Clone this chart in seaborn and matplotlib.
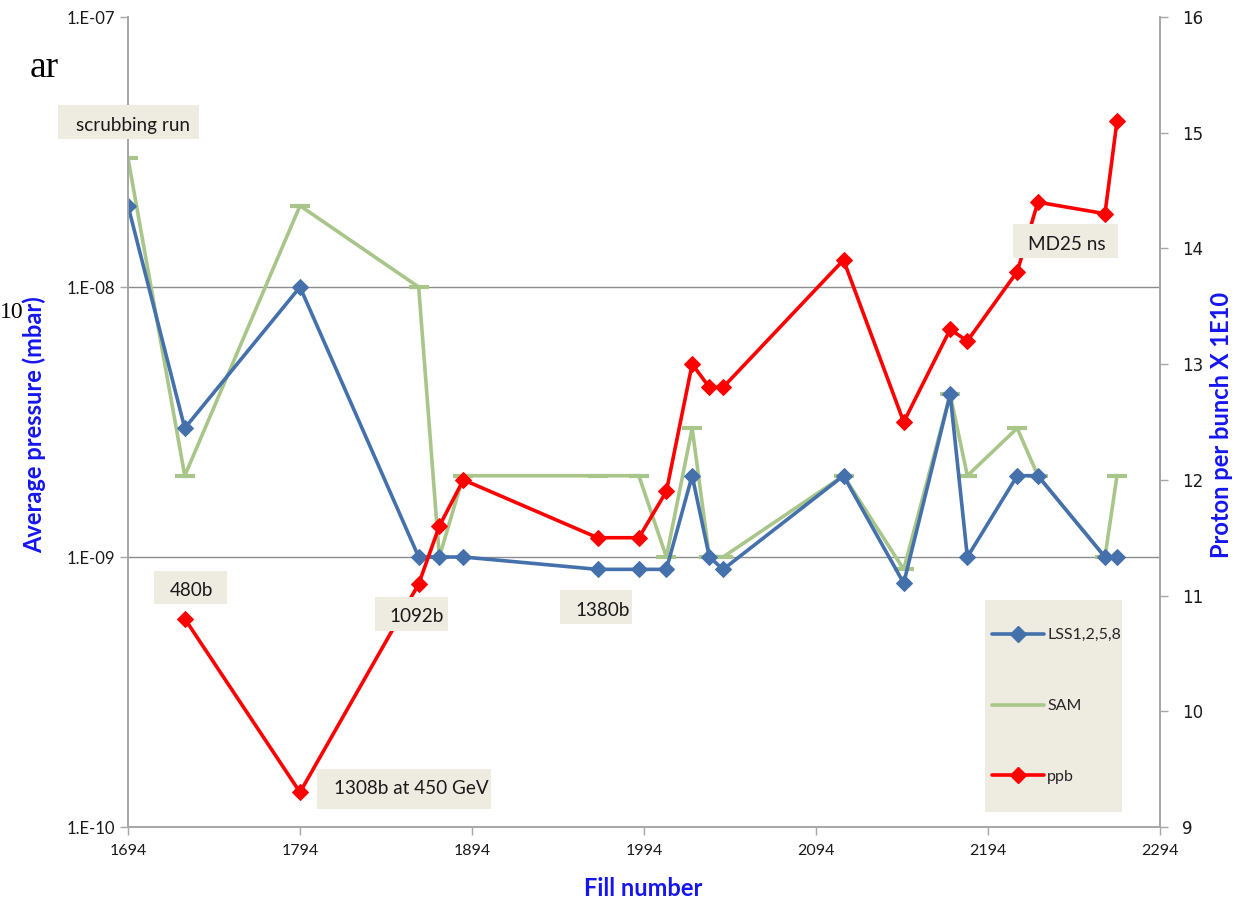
import numpy as np
import pandas as pd
import matplotlib
matplotlib.use("Agg")
import matplotlib.pyplot as plt
import seaborn as sns
from matplotlib.lines import Line2D
from matplotlib.patches import Rectangle
from matplotlib.ticker import FixedLocator, FuncFormatter, NullLocator

sns.set_theme(style="white")
plt.rcParams['font.family'] = ['Lato', 'DejaVu Sans']

# ---------------- data ----------------
fills_lss = [1694, 1727, 1794, 1863, 1875, 1889, 1967, 1991, 2007, 2022, 2032, 2040,
             2110, 2145, 2172, 2182, 2211, 2223, 2262, 2269]
lss = [2e-8, 3e-9, 1e-8, 1e-9, 1e-9, 1e-9, 9e-10, 9e-10, 9e-10, 2e-9, 1e-9, 9e-10,
       2e-9, 8e-10, 4e-9, 1e-9, 2e-9, 2e-9, 1e-9, 1e-9]

fills_sam = [1694, 1727, 1794, 1863, 1875, 1889, 1967, 1991, 2007, 2022, 2032, 2040,
             2110, 2145, 2172, 2182, 2211, 2223, 2262, 2269]
sam = [3e-8, 2e-9, 2e-8, 1e-8, 1e-9, 2e-9, 2e-9, 2e-9, 1e-9, 3e-9, 1e-9, 1e-9,
       2e-9, 9e-10, 4e-9, 2e-9, 3e-9, 2e-9, 1e-9, 2e-9]

fills_ppb = [1727, 1794, 1863, 1875, 1889, 1967, 1991, 2007, 2022, 2032, 2040,
             2110, 2145, 2172, 2182, 2211, 2223, 2262, 2269]
ppb = [10.8, 9.3, 11.1, 11.6, 12.0, 11.5, 11.5, 11.9, 13.0, 12.8, 12.8,
       13.9, 12.5, 13.3, 13.2, 13.8, 14.4, 14.3, 15.1]

x_ticks = [1694, 1794, 1894, 1994, 2094, 2194, 2294]
y_ticks = [1e-10, 1e-9, 1e-8, 1e-7]
y2_ticks = [9, 10, 11, 12, 13, 14, 15, 16]

annotations = ["scrubbing run", "480b", "1092b", "1380b", "1308b at 450 GeV", "MD25 ns"]
series_names = ["LSS1,2,5,8", "SAM", "ppb"]

# ---------------- style ----------------
BLUE = "#4471AB"
GREEN = "#A9C68A"
RED = "#FF0000"
BEIGE = "#EEEBE1"
LABEL_BLUE = "#1515F0"
GRID = "#8C8C8C"

W, H = 1239, 901
fig = plt.figure(figsize=(W / 100, H / 100), dpi=100)
ax = fig.add_axes([128 / W, 1 - 827 / H, (1160 - 128) / W, (827 - 17) / H])
ax2 = ax.twinx()

df_lss = pd.DataFrame({"fill": fills_lss, "p": lss})
df_sam = pd.DataFrame({"fill": fills_sam, "p": sam})
df_ppb = pd.DataFrame({"fill": fills_ppb, "v": ppb})

sns.lineplot(data=df_lss, x="fill", y="p", ax=ax, color=BLUE, lw=2.6,
             marker="D", markersize=8, markeredgecolor=BLUE, estimator=None, sort=False,
             zorder=3)
sns.lineplot(data=df_sam, x="fill", y="p", ax=ax, color=GREEN, lw=2.6,
             marker="_", markersize=14, markeredgewidth=3, markeredgecolor=GREEN,
             estimator=None, sort=False, zorder=2)
sns.lineplot(data=df_ppb, x="fill", y="v", ax=ax2, color=RED, lw=2.6,
             marker="D", markersize=8, markeredgecolor=RED, estimator=None, sort=False,
             zorder=3)

ax.set_yscale("log")
ax.set_xlim(1694, 2294)
ax.set_ylim(1e-10, 1e-7)
ax2.set_ylim(9, 16)

ax.xaxis.set_major_locator(FixedLocator(x_ticks))
ax.yaxis.set_major_locator(FixedLocator(y_ticks))
ax.yaxis.set_minor_locator(NullLocator())
ax.yaxis.set_major_formatter(FuncFormatter(lambda v, p: "1.E-%02d" % int(round(-np.log10(v)))))
ax2.yaxis.set_major_locator(FixedLocator(y2_ticks))

ax.grid(False)
ax2.grid(False)
for yt in y_ticks[1:3]:
    ax.axhline(yt, color=GRID, lw=1.0, zorder=1)

for a in (ax, ax2):
    a.spines["top"].set_visible(False)
    for s in ("left", "right", "bottom"):
        a.spines[s].set_color("#A6A6A6")
        a.spines[s].set_linewidth(1.2)

ax.tick_params(axis="x", direction="out", length=6, width=1, color="#A6A6A6",
               labelsize=11.5, pad=6, labelcolor="#1a1a1a", bottom=True)
ax.tick_params(axis="y", direction="out", length=6, width=1, color="#A6A6A6",
               labelsize=12, labelcolor="#1a1a1a", left=True)
ax2.tick_params(axis="y", direction="out", length=6, width=1, color="#A6A6A6",
                labelsize=12, pad=10, labelcolor="#1a1a1a", right=True)
for t in ax2.get_yticklabels():
    t.set_fontfamily("DejaVu Sans")

ax.set_xlabel("Fill number", fontsize=17, fontweight="bold", color=LABEL_BLUE)
ax.set_ylabel("Average pressure (mbar)", fontsize=17, fontweight="bold", color=LABEL_BLUE)
ax2.set_ylabel("Proton per bunch X 1E10", fontsize=17, fontweight="bold", color=LABEL_BLUE)
ax.xaxis.set_label_coords((643 - 128) / 1032, (827 - 888) / 810)
ax.yaxis.set_label_coords((34 - 128) / 1032, (827 - 425) / 810)
ax2.yaxis.set_label_coords((1222 - 128) / 1032, (827 - 425) / 810)
ax.xaxis.label.set_va("center")
ax.yaxis.label.set_va("center")
ax2.yaxis.label.set_va("center")

# annotation boxes: (box x0, x1, y0, y1, text center x, text center y) in figure pixels
ann_layout = [
    (58, 199, 105, 139, 133, 126),
    (154, 227, 571, 604, 191, 590),
    (375, 448, 597, 631, 417, 616),
    (560, 632, 590, 624, 603, 610),
    (317, 491, 769, 809, 411, 789),
    (1013, 1118, 224, 258, 1067, 244),
]
for txt, (x0, x1, y0, y1, tx, ty) in zip(annotations, ann_layout):
    ax2.add_patch(Rectangle((x0 / W, 1 - y1 / H), (x1 - x0) / W, (y1 - y0) / H,
                            transform=fig.transFigure, facecolor=BEIGE, edgecolor="none",
                            zorder=8, clip_on=False))
    ax2.text(tx / W, 1 - ty / H, txt, transform=fig.transFigure, ha="center", va="center",
             fontsize=13.6, color="#1a1a1a", zorder=9, clip_on=False)

# legend box + legend
ax2.add_patch(Rectangle((985 / W, 1 - 812 / H), (1122 - 985) / W, (812 - 600) / H,
                        transform=fig.transFigure, facecolor=BEIGE, edgecolor="none",
                        zorder=4, clip_on=False))
handles = [
    Line2D([], [], color=BLUE, lw=2.6, marker="D", markersize=8),
    Line2D([], [], color=GREEN, lw=2.6),
    Line2D([], [], color=RED, lw=2.6, marker="D", markersize=8),
]
if ax.get_legend():
    ax.get_legend().remove()
leg = ax2.legend(handles, series_names, loc="center left",
                 bbox_to_anchor=(992 / W, 1 - 706 / H), bbox_transform=fig.transFigure,
                 frameon=False, fontsize=11.5, labelspacing=3.55, handlelength=3.25,
                 handletextpad=0.2, borderpad=0, borderaxespad=0)
leg.set_zorder(6)

# slide remnants
fig.text(30 / W, 1 - 68 / H, "ar", fontsize=27, family="Liberation Serif", color="black",
         va="center", ha="left")
fig.text(0 / W, 1 - 313 / H, "10", fontsize=17, family="Liberation Serif", color="black",
         va="center", ha="left")

fig.savefig("out.png", dpi=100, facecolor="white")
